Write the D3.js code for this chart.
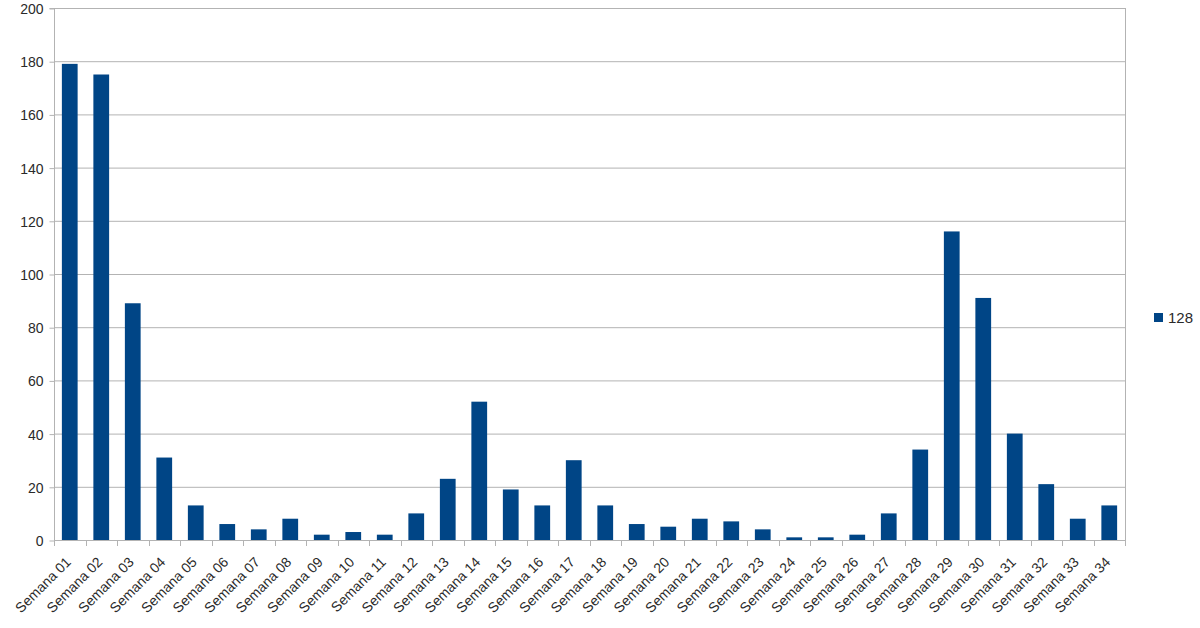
<!DOCTYPE html>
<html>
<head>
<meta charset="utf-8">
<script src="https://cdn.jsdelivr.net/npm/d3@7"></script>
<style>
  html, body { margin: 0; padding: 0; background: #fff; }
  svg { display: block; font-family: "Liberation Sans", Arial, sans-serif; }
</style>
</head>
<body>
<svg id="chart" width="1200" height="628"></svg>
<script>
const categories = ["Semana 01","Semana 02","Semana 03","Semana 04","Semana 05","Semana 06","Semana 07","Semana 08","Semana 09","Semana 10","Semana 11","Semana 12","Semana 13","Semana 14","Semana 15","Semana 16","Semana 17","Semana 18","Semana 19","Semana 20","Semana 21","Semana 22","Semana 23","Semana 24","Semana 25","Semana 26","Semana 27","Semana 28","Semana 29","Semana 30","Semana 31","Semana 32","Semana 33","Semana 34"];
const values = [179,175,89,31,13,6,4,8,2,3,2,10,23,52,19,13,30,13,6,5,8,7,4,1,1,2,10,34,116,91,40,21,8,13];
const yTicks = [0,20,40,60,80,100,120,140,160,180,200];
const seriesName = "128";

const svg = d3.select("#chart");
const mLeft = 54, mRight = 1125, mTop = 8, mBottom = 540;
const grid = "#b3b3b3";
const barColor = "#004586";
const textColor = "#2a2a2a";

const x = d3.scaleBand().domain(categories).range([mLeft, mRight]).paddingInner(0.5).paddingOuter(0.25);
const xb = d3.scaleBand().domain(categories).range([mLeft, mRight]).padding(0);
const y = d3.scaleLinear().domain([0, 200]).range([mBottom, mTop]);

// gridlines
svg.append("g").selectAll("line").data(yTicks).join("line")
  .attr("x1", mLeft).attr("x2", mRight)
  .attr("y1", d => y(d) + 0.5).attr("y2", d => y(d) + 0.5)
  .attr("stroke", grid).attr("stroke-width", 1);

// right border
svg.append("line").attr("x1", mRight + 0.5).attr("x2", mRight + 0.5)
  .attr("y1", mTop).attr("y2", mBottom).attr("stroke", grid);

// bars
svg.append("g").selectAll("rect").data(values).join("rect")
  .attr("x", (d, i) => x(categories[i]))
  .attr("width", x.bandwidth())
  .attr("y", d => y(d))
  .attr("height", d => y(0) - y(d))
  .attr("fill", barColor);

// y axis
const yAxis = d3.axisLeft(y).tickValues(yTicks).tickSize(5).tickPadding(6);
const gy = svg.append("g").attr("transform", `translate(${mLeft + 0.5},0.5)`).call(yAxis);
gy.select(".domain").attr("stroke", grid).attr("d", `M-5,${mTop}H0V${mBottom}`);
gy.selectAll(".tick line").attr("stroke", grid);
gy.selectAll(".tick text").attr("fill", textColor).style("font-size", "14px")
  .style("font-family", "'Liberation Sans', Arial, sans-serif").attr("dy", "0.35em");

// x axis tick marks at band boundaries
const bounds = categories.map(c => xb(c)).concat([mRight]);
svg.append("g").selectAll("line").data(bounds).join("line")
  .attr("x1", d => Math.round(d) + 0.5).attr("x2", d => Math.round(d) + 0.5)
  .attr("y1", mBottom).attr("y2", mBottom + 6)
  .attr("stroke", grid);
svg.append("line").attr("x1", mLeft).attr("x2", mRight)
  .attr("y1", mBottom + 0.5).attr("y2", mBottom + 0.5).attr("stroke", grid);

// x labels
svg.append("g").selectAll("text").data(categories).join("text")
  .attr("transform", d => `translate(${x(d) + x.bandwidth() / 2 + 2},${mBottom + 23}) rotate(-45)`)
  .attr("text-anchor", "end")
  .attr("fill", textColor)
  .style("font-size", "14px")
  .text(d => d);

// legend
const lg = svg.append("g").attr("transform", "translate(1154,313)");
lg.append("rect").attr("width", 9).attr("height", 9).attr("fill", barColor);
lg.append("text").attr("x", 14).attr("y", 4.5).attr("dy", "0.35em")
  .attr("fill", textColor).style("font-size", "15px").text(seriesName);
</script>
</body>
</html>
